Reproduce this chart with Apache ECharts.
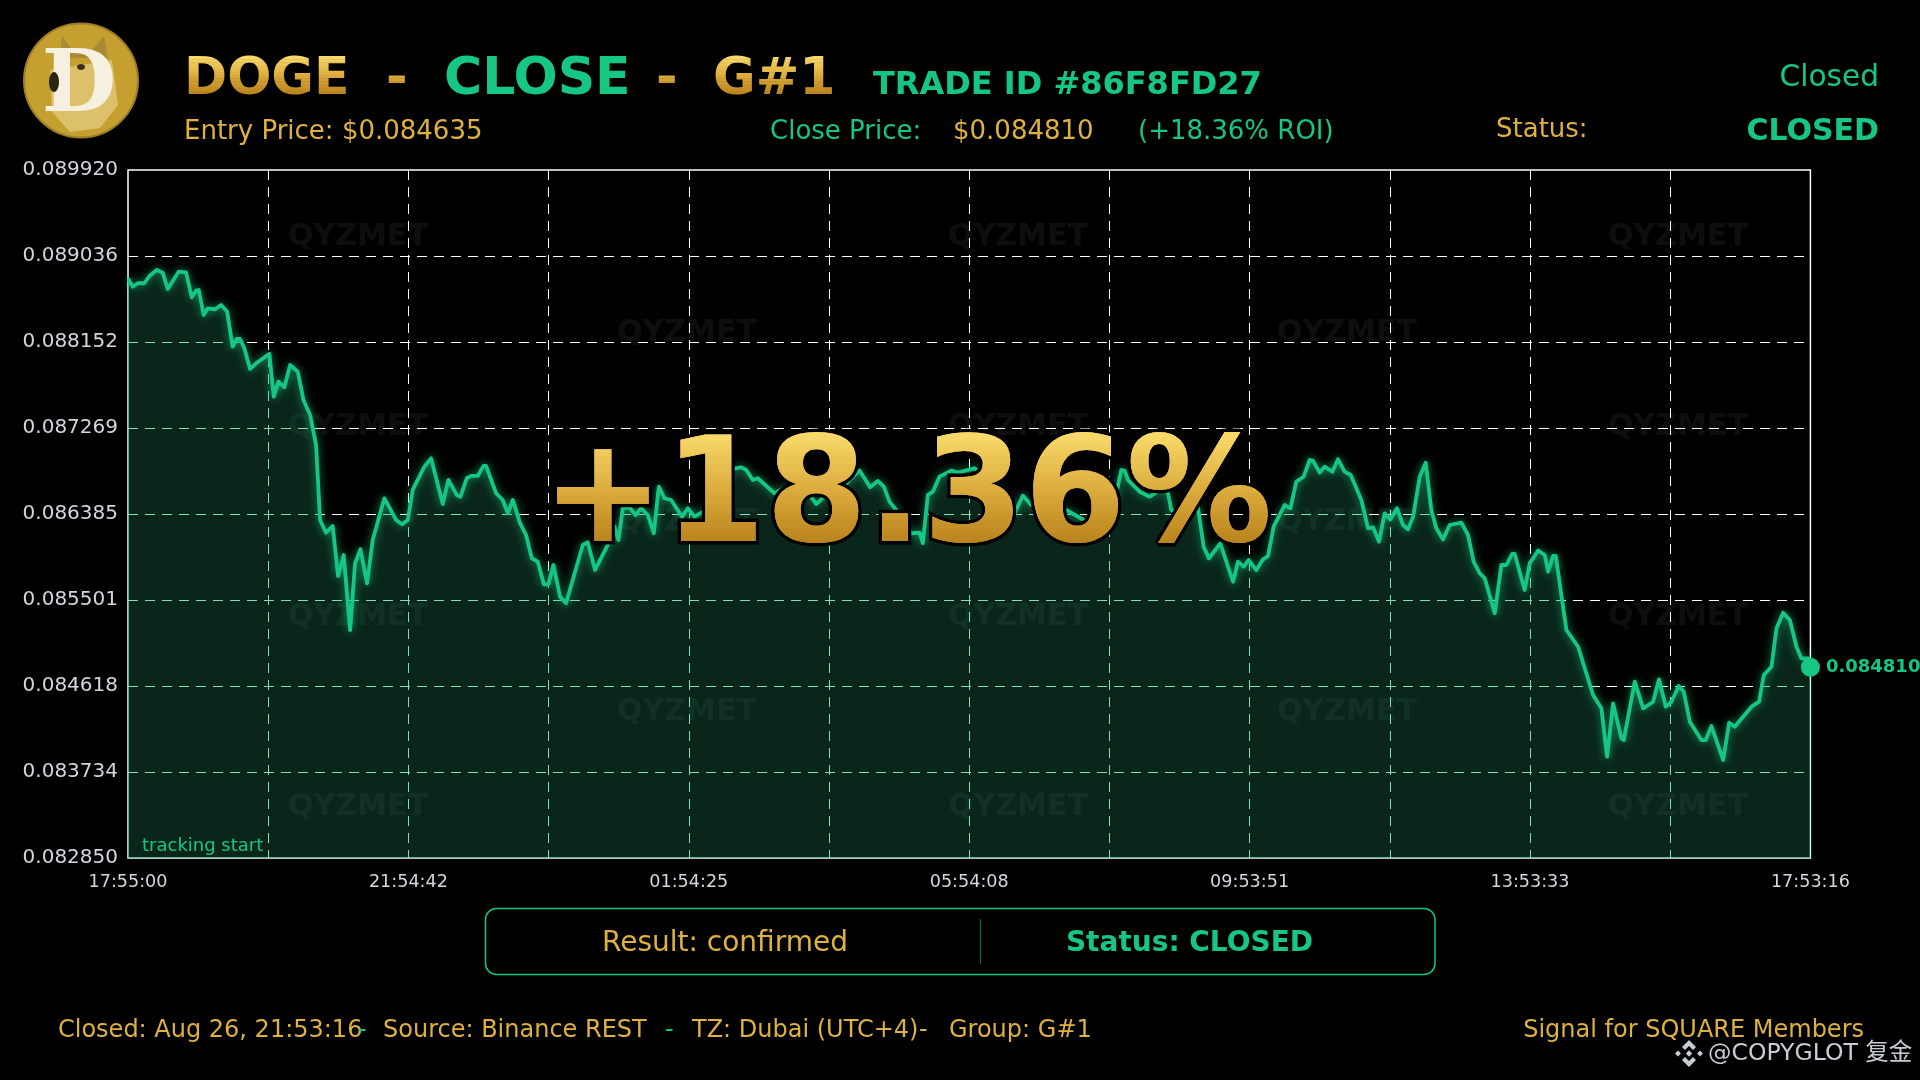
<!DOCTYPE html>
<html><head><meta charset="utf-8">
<style>html,body{margin:0;padding:0;background:#000;width:100%;height:100%;overflow:hidden}#c{width:1920px;height:1080px}</style>
<script src="https://cdn.jsdelivr.net/npm/echarts@6/dist/echarts.min.js"></script>
</head><body><div id="c"></div>
<script>
const xTickLabels = ['17:55:00','','21:54:42','','01:54:25','','05:54:08','','09:53:51','','13:53:33','','17:53:16'];
const yTickLabels = ['0.082850','0.083734','0.084618','0.085501','0.086385','0.087269','0.088152','0.089036','0.089920'];
const minutesSinceStart = [0,4,8.3,14,18.3,24.6,29.7,34,43.4,49.6,54.5,58.2,60.5,64.7,68.2,74.4,79.6,84.7,89.5,93,95.8,99.5,104.4,109.5,120.9,124.6,128.6,133.7,138.6,145.1,150,155.7,160.8,164.2,169.3,175,179.6,184.4,185.6,189.9,194.1,198.7,200.1,204.4,209.2,219.2,229.2,234.3,239.2,243.4,253.4,259.1,260.5,269.1,273.9,275.4,281,284.2,289.6,293.3,299,303.9,306.1,314.7,320.4,324.7,329,330.4,335.2,340.3,345.2,350.3,355.5,359.4,363.7,365.4,369.4,374.5,388.8,393,399.3,
410.2,415.9,419.3,423,428.7,433.8,438.7,444.4,449.5,453.8,458.6,464.3,473.7,478.6,484.3,494.3,502.8,511.4,517,524.2,528.5,534.2,538.4,552.7,562.6,571.2,579.7,588.3,596.9,611.1,616.8,625.4,634.5,641,646.2,651,656.7,669.5,676.7,679.5,683.8,688.1,693.8,703.7,709.4,723.7,739.4,750.8,757.9,765,772.1,
802.2,822.1,836.4,844.9,849.2,852,854.9,864.9,873.4,884.8,889.1,891.9,901.9,910.5,914.7,919.6,924.1,933.8,944.7,948.9,953.8,958,964.6,970.3,974.6,979.4,988.8,993.7,998.8,1005.1,1010.2,1013,1018.8,1023,1029.6,1034.4,1040.1,1045.3,1054.4,1060.1,1064.4,1069.5,1074.3,1079.2,1084.9,1090,1094.3,1098.6,1104.3,1109.4,1110.5,1114.2,1118.5,1124.2,1129.9,1139.9,1145.6,1150.4,
1155.6,1159.9,1168.4,1174.1,1178.4,1183.2,1185.5,1194,1198.3,1205.5,1211.2,1214,1218.3,1220.6,1229.7,1239.7,1252.5,1259.6,1264.5,1269.6,1276.7,1278.7,1288.1,1295.3,1303.8,1308.9,1314.6,1319.5,1325.7,1330,1335.2,1345.1,1348.8,1353.7,1355.1,1363.7,1368.8,1373.6,1387.9,1394.4,1398.4,1405,1409.3,1415,1420.7,1426.4,1430.6,1436.3,1438.272];
const closePrices = [0.088807,0.088721,0.088756,0.088756,0.088831,0.088893,0.088865,0.088697,0.088876,0.088869,0.088612,0.088680,0.088687,0.088430,0.088499,0.088489,0.088533,0.088465,0.088105,0.088184,0.088184,0.088088,0.087875,0.087934,0.088030,0.087591,0.087745,0.087687,0.087916,0.087848,0.087557,0.087403,0.087094,0.086324,0.086194,0.086262,0.085748,0.085964,0.085964,0.085193,0.085878,0.086022,0.086022,0.085673,0.086118,0.086546,0.086324,0.086279,0.086324,0.086632,0.086872,0.086957,0.086957,0.086488,0.086735,0.086735,0.086581,0.086563,0.086752,0.086776,0.086776,0.086879,0.086879,0.086598,0.086529,0.086392,0.086529,0.086529,0.086289,0.086170,0.085930,0.085896,0.085663,0.085663,0.085861,0.085861,0.085536,0.085467,0.086067,0.086094,0.085810,
0.086067,0.086255,0.086118,0.086444,0.086454,0.086375,0.086444,0.086375,0.086187,0.086666,0.086547,0.086529,0.086358,0.086444,0.086358,0.086427,0.086529,0.086735,0.086848,0.086865,0.086838,0.086735,0.086752,0.086598,0.086660,0.086564,0.086632,0.086488,0.086581,0.086649,0.086735,0.086831,0.086660,0.086725,0.086666,0.086512,0.086427,0.086187,0.086194,0.086084,0.086581,0.086615,0.086769,0.086831,0.086810,0.086855,0.086701,0.086529,0.086392,0.086574,0.086478,
0.086426,0.086289,0.086392,0.086597,0.086837,0.086830,0.086734,0.086614,0.086563,0.086649,0.086597,0.086426,0.086375,0.086443,0.086453,0.086049,0.085929,0.086083,0.085689,0.085895,0.085844,0.085912,0.085809,0.085919,0.085953,0.086255,0.086477,0.086443,0.086717,0.086768,0.086940,0.086933,0.086810,0.086871,0.086820,0.086947,0.086820,0.086786,0.086529,0.086238,0.086248,0.086101,0.086392,0.086330,0.086443,0.086272,0.086227,0.086357,0.086768,0.086912,0.086912,0.086426,0.086238,0.086124,0.086272,0.086296,0.086169,0.085895,
0.085776,0.085724,0.085365,0.085861,0.085861,0.085974,0.085974,0.085604,0.085878,0.086009,0.085964,0.085793,0.085954,0.085954,0.085193,0.085021,0.084525,0.084388,0.083891,0.084439,0.084079,0.084062,0.084662,0.084388,0.084456,0.084686,0.084405,0.084456,0.084617,0.084559,0.084251,0.084062,0.084062,0.084206,0.084206,0.083857,0.084240,0.084199,0.084405,0.084456,0.084730,0.084816,0.085210,0.085371,0.085295,0.085021,0.084901,0.084901,0.084810];
const yMin = 0.08285, yMax = 0.08992, xMax = 1438.272;
const yStep = (yMax - yMin) / 8, xStep = xMax / 12;

const GREEN = '#16c784', GOLD = '#dfb13f', LIGHT = '#d2d6de';
const FF = '"DejaVu Sans"';
const chart = echarts.init(document.getElementById('c'), null, {renderer:'canvas', width:1920, height:1080});
function T(text, x, y, font, fill, align, extra) {
  return {type:'text', x:x, y:y, z:20, silent:true,
    style:Object.assign({text:text, font:font, fill:fill, textAlign:align||'left', textVerticalAlign:'middle'}, extra||{})};
}
const reg = s => 'normal ' + s + 'px ' + FF;
const bold = s => 'bold ' + s + 'px ' + FF;

const wmA = [[358,237],[1018,237],[1678,237],[358,427],[1018,427],[1678,427],[358,617],[1018,617],[1678,617],[358,807],[1018,807],[1678,807]];
const wmB = [[687,333],[1347,333],[687,522],[1347,522],[687,712],[1347,712]];
const watermarks = wmA.concat(wmB).map(p => ({type:'text', x:p[0], y:p[1], z:1, silent:true,
  style:{text:'QYZMET', font:bold(30), fill:'rgba(255,255,255,0.055)', textAlign:'center', textVerticalAlign:'middle'}}));

function diamond(cx, cy, r, c) {
  return {type:'polygon', z:20, silent:true, shape:{points:[[cx,cy-r],[cx+r,cy],[cx,cy+r],[cx-r,cy]]}, style:{fill:c}};
}
const logoC = '#c8ccd4';
const binance = [
  {type:'polygon',z:20,silent:true,shape:{points:[[1689,1040],[1696,1047],[1693,1050],[1689,1046],[1685,1050],[1682,1047]]},style:{fill:logoC}},
  {type:'polygon',z:20,silent:true,shape:{points:[[1689,1067],[1696,1060],[1693,1057],[1689,1061],[1685,1057],[1682,1060]]},style:{fill:logoC}},
  diamond(1678,1053.5,3,logoC), diamond(1700,1053.5,3,logoC), diamond(1689,1053.5,3.2,logoC)
];

const coin = [
  {type:'circle',z:15,silent:true,shape:{cx:81,cy:80.5,r:57},style:{fill:'#c5a030',stroke:'#9c7d24',lineWidth:2}},
  {type:'polygon',z:15,silent:true,shape:{points:[[60,58],[62,36],[72,50],[92,50],[104,36],[108,58]]},style:{fill:'#a98a35'}},
  {type:'polygon',z:15,silent:true,shape:{points:[[50,70],[112,60],[118,105],[100,128],[70,132],[52,112]]},style:{fill:'#dcc06a'}},
  {type:'text',x:79,y:89,z:16,silent:true,style:{text:'D',font:'bold 86px "DejaVu Serif"',fill:'#f5f0df',textAlign:'center',textVerticalAlign:'middle'}},
  {type:'ellipse',z:17,silent:true,shape:{cx:54,cy:82,rx:5,ry:10},style:{fill:'#2a2415'}},
  {type:'ellipse',z:17,silent:true,shape:{cx:81,cy:67,rx:4,ry:3},style:{fill:'#3a3015'}}
];

const texts = [
  T('CLOSE',444,80,bold(52),GREEN),
  T('TRADE ID #86F8FD27',873,86,bold(32),GREEN),
  T('Entry Price: $0.084635',184,132,reg(26),GOLD),
  T('Close Price:',770,132,reg(26),GREEN),
  T('$0.084810',953,132,reg(26),GOLD),
  T('(+18.36% ROI)',1138,132,reg(26),GREEN),
  T('Status:',1496,130,reg(26),GOLD),
  T('CLOSED',1879,132,bold(30),GREEN,'right'),
  T('Closed',1879,78,reg(29.6),GREEN,'right'),
  T('tracking start',142,846,reg(18),GREEN),
  T('Result: confirmed',725,943.5,reg(28),GOLD,'center'),
  T('Status: CLOSED',1189.5,943.5,bold(28),GREEN,'center'),
  T('Closed: Aug 26, 21:53:16',58,1031,reg(24),GOLD),
  T('-',358,1031,reg(24),GREEN),
  T('Source: Binance REST',383,1031,reg(24),GOLD),
  T('-',665,1031,reg(24),GREEN),
  T('TZ: Dubai (UTC+4)',692,1031,reg(24),GOLD),
  T('-',919,1031,reg(24),GOLD),
  T('Group: G#1',949,1031,reg(24),GOLD),
  T('Signal for SQUARE Members',1864,1031,reg(24),GOLD,'right'),
  T('@COPYGLOT 复金',1708,1054,'normal 23.5px "DejaVu Sans","Noto Sans CJK SC"',logoC)
];
const box = [
  {type:'rect',z:5,silent:true,shape:{x:485.5,y:908.5,width:949.5,height:66,r:11},style:{fill:'none',stroke:GREEN,lineWidth:1.5}},
  {type:'line',z:5,silent:true,shape:{x1:980.5,y1:919,x2:980.5,y2:964},style:{stroke:'rgba(22,199,132,0.55)',lineWidth:1}}
];

// vertical gold shading: thin clipped bands of the same text
const goldStops = [[0,[249,220,108]],[0.55,[217,168,58]],[1,[184,131,28]]];
function goldAt(t) {
  const i = t < 0.55 ? 0 : 1, a = goldStops[i], b = goldStops[i+1], k = (t-a[0])/(b[0]-a[0]);
  return 'rgb(' + a[1].map((v,j)=>Math.round(v+(b[1][j]-v)*k)).join(',') + ')';
}
function goldText(text, x, y, font, align, top, bottom, n, xa, xb, extra) {
  const out = [];
  if (extra) out.push(T(text, x, y, font, goldAt(0.5), align, extra));
  const h = (bottom - top) / n;
  for (let i = 0; i < n; i++) {
    out.push({type:'group', z:21, silent:true,
      clipPath:{type:'rect', shape:{x:xa, y: i===0 ? top-20 : top+i*h, width:xb-xa, height: h + (i===0?20:0) + (i===n-1?20:0) + 0.5}},
      children:[Object.assign(T(text, x, y, font, goldAt((i+0.5)/n), align),{z:21})]});
  }
  return out;
}
const goldTexts = [].concat(
  goldText('DOGE',184,80,bold(52),'left',56,94,12,170,360),
  goldText('-',386,80,bold(52),'left',56,94,12,380,420),
  goldText('-',656,80,bold(52),'left',56,94,12,650,690),
  goldText('G#1',713,80,bold(52),'left',56,94,12,700,845),
  goldText('+18.36%',907,503,bold(146),'center',432,544,28,520,1300,{stroke:'#000',lineWidth:7,lineJoin:'round'})
);

const lineData = minutesSinceStart.map((m,i)=>[m,closePrices[i]]);
const last = lineData[lineData.length-1];
const gridDash = {show:true, showMinLine:false, showMaxLine:false, lineStyle:{color:'#fff', width:1, type:[10,7]}};
chart.setOption({
  animation:false,
  backgroundColor:'#000',
  grid:{left:128,top:170,width:1682.4,height:688,show:true,backgroundColor:'transparent',borderColor:'#fff',borderWidth:1.5,containLabel:false},
  xAxis:{type:'value',min:0,max:xMax,interval:xStep,axisLine:{show:false},axisTick:{show:false},splitLine:gridDash,
    axisLabel:{color:LIGHT,fontFamily:FF,fontSize:17.6,margin:15,showMinLabel:true,showMaxLabel:true,
      formatter:v=>xTickLabels[Math.round(v/xStep)]||''}},
  yAxis:{type:'value',min:yMin,max:yMax,interval:yStep,axisLine:{show:false},axisTick:{show:false},splitLine:gridDash,
    axisLabel:{color:LIGHT,fontFamily:FF,fontSize:20,margin:10,lineHeight:24,padding:[7,0,0,0],showMinLabel:true,showMaxLabel:true,
      formatter:v=>yTickLabels[Math.round((v-yMin)/yStep)]||''}},
  series:[
    {type:'line',data:lineData,showSymbol:false,z:2,blendMode:'multiply',lineStyle:{width:0,opacity:0},areaStyle:{color:'rgb(115,187,163)',opacity:1},silent:true},
    {type:'line',data:lineData,showSymbol:false,z:2,blendMode:'lighter',lineStyle:{width:0,opacity:0},areaStyle:{color:'rgb(10,38,27)',opacity:1},silent:true},
    {type:'line',data:lineData,showSymbol:false,smooth:false,z:3,clip:false,
      lineStyle:{color:GREEN,width:3.8,join:'round',shadowBlur:8,shadowColor:'rgba(22,199,132,0.75)'}},
    {type:'scatter',data:[last],symbol:'circle',symbolSize:19,z:4,clip:false,itemStyle:{color:GREEN,opacity:1},
      label:{show:true,position:'right',distance:6,formatter:p=>p.value[1].toFixed(6),color:GREEN,fontFamily:FF,fontWeight:'bold',fontSize:18}},
    {type:'custom',coordinateSystem:'none',data:[0],z:20,silent:true,clip:false,
      renderItem:()=>({type:'group',children:goldTexts})}
  ],
  graphic:{elements:[...watermarks,...coin,...box,...binance,...texts]}
});
</script></body></html>
